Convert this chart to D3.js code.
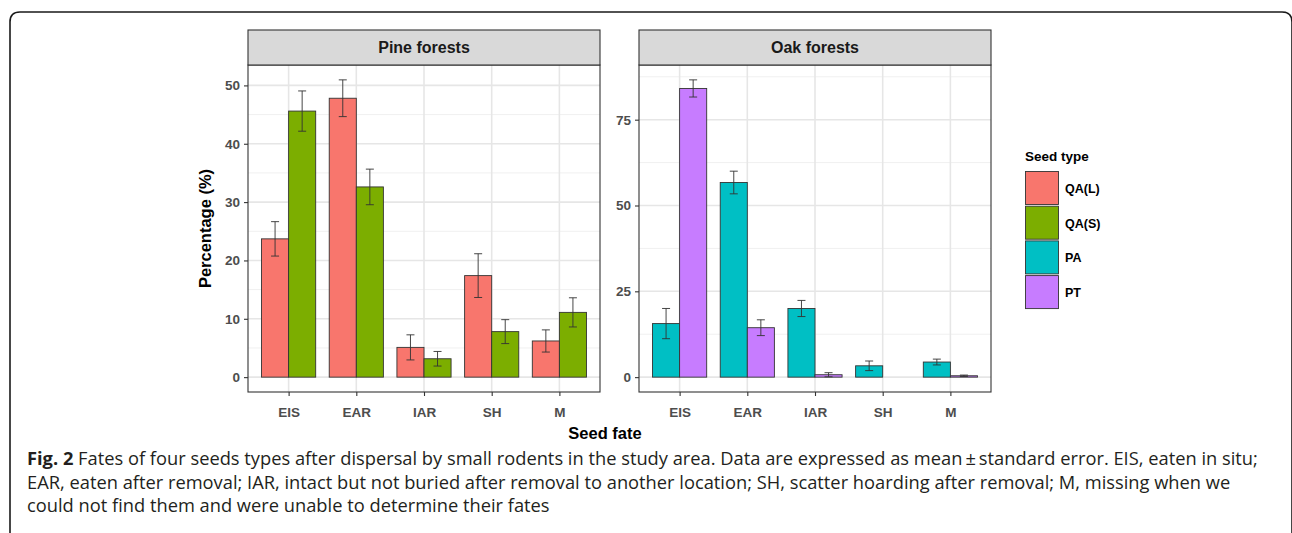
<!DOCTYPE html>
<html>
<head>
<meta charset="utf-8">
<script src="https://cdn.jsdelivr.net/npm/d3@7"></script>
<style>
  html, body { margin: 0; padding: 0; background: #fff; }
  svg { display: block; }
</style>
</head>
<body>
<svg id="chart" width="1292" height="533"></svg>
<script>
// ---------- DATA ----------
const fates = ["EIS", "EAR", "IAR", "SH", "M"];
const seedTypes = ["QA(L)", "QA(S)", "PA", "PT"];
const seedColors = ["#F8766D", "#7CAE00", "#00BFC4", "#C77CFF"];

// Pine forests
const pineQAL = [23.7, 47.8, 5.1, 17.4, 6.2];
const pineQALse = [2.95, 3.15, 2.15, 3.75, 1.9];
const pineQAS = [45.6, 32.6, 3.15, 7.8, 11.1];
const pineQASse = [3.45, 3.05, 1.25, 2.05, 2.5];
const pineTicks = [0, 10, 20, 30, 40, 50];

// Oak forests
const oakPA = [15.6, 56.7, 20.0, 3.3, 4.4];
const oakPAse = [4.4, 3.3, 2.35, 1.4, 0.85];
const oakPT = [84.1, 14.4, 0.7, 0, 0.4];
const oakPTse = [2.5, 2.3, 0.6, 0, 0.2];
const oakTicks = [0, 25, 50, 75];

const panels = [
  { title: "Pine forests", series: [
      { type: "QA(L)", mean: pineQAL, se: pineQALse },
      { type: "QA(S)", mean: pineQAS, se: pineQASse } ], ticks: pineTicks, x0: 248, x1: 600 },
  { title: "Oak forests", series: [
      { type: "PA", mean: oakPA, se: oakPAse },
      { type: "PT", mean: oakPT, se: oakPTse } ], ticks: oakTicks, x0: 639, x1: 991 }
];

const color = d3.scaleOrdinal().domain(seedTypes).range(seedColors);

const svg = d3.select("#chart");
const FONT = "'Liberation Sans', Arial, sans-serif";

// outer rounded frame
svg.append("path")
  .attr("d", "M10,540 L10,22 Q10,12 20,12 L1282,12 Q1292,12 1292,22 L1292,540")
  .attr("fill", "none").attr("stroke", "#1a1a1a").attr("stroke-width", 1.6);

const stripTop = 30, panelTop = 65, panelBottom = 392;

panels.forEach(p => {
  const g = svg.append("g");
  const x = d3.scalePoint().domain(fates).range([p.x0, p.x1]).padding(0.6);
  const step = x.step();
  const maxV = d3.max(p.series.flatMap(s => s.mean.map((m, i) => m + s.se[i])));
  const y = d3.scaleLinear().domain([-0.05 * maxV, maxV * 1.05]).range([panelBottom, panelTop]);

  // background
  g.append("rect").attr("x", p.x0).attr("y", panelTop).attr("width", p.x1 - p.x0)
    .attr("height", panelBottom - panelTop).attr("fill", "#fff");

  // minor grid
  const tstep = p.ticks[1] - p.ticks[0];
  const minors = [];
  for (let v = -tstep / 2; v <= y.domain()[1]; v += tstep) {
    if (v >= y.domain()[0]) minors.push(v);
  }
  g.selectAll(".ming").data(minors).join("line")
    .attr("x1", p.x0).attr("x2", p.x1)
    .attr("y1", d => y(d)).attr("y2", d => y(d))
    .attr("stroke", "#f0f0f0").attr("stroke-width", 1);
  // major grid
  g.selectAll(".majg").data(p.ticks).join("line")
    .attr("x1", p.x0).attr("x2", p.x1)
    .attr("y1", d => y(d)).attr("y2", d => y(d))
    .attr("stroke", "#e6e6e6").attr("stroke-width", 1.6);
  g.selectAll(".vg").data(fates).join("line")
    .attr("x1", d => x(d)).attr("x2", d => x(d))
    .attr("y1", panelTop).attr("y2", panelBottom)
    .attr("stroke", "#e6e6e6").attr("stroke-width", 1.6);

  // bars
  const bw = step * 0.4;
  p.series.forEach((s, si) => {
    const off = si === 0 ? -bw : 0;
    g.selectAll(".bar" + si).data(fates).join("rect")
      .attr("x", d => x(d) + off)
      .attr("y", (d, i) => y(s.mean[i]))
      .attr("width", bw)
      .attr("height", (d, i) => Math.max(0, y(0) - y(s.mean[i])))
      .attr("fill", color(s.type))
      .attr("stroke", "#333").attr("stroke-width", 0.9);
  });
  // error bars
  p.series.forEach((s, si) => {
    const cx = d => x(d) + (si === 0 ? -bw / 2 : bw / 2);
    const eg = g.append("g").attr("stroke", "#333").attr("stroke-width", 1).attr("stroke-opacity", 0.9);
    fates.forEach((d, i) => {
      if (s.se[i] <= 0) return;
      const c = cx(d), hi = y(s.mean[i] + s.se[i]), lo = y(s.mean[i] - s.se[i]);
      eg.append("line").attr("x1", c).attr("x2", c).attr("y1", hi).attr("y2", lo);
      eg.append("line").attr("x1", c - 4).attr("x2", c + 4).attr("y1", hi).attr("y2", hi);
      eg.append("line").attr("x1", c - 4).attr("x2", c + 4).attr("y1", lo).attr("y2", lo);
    });
  });

  // panel border
  g.append("rect").attr("x", p.x0).attr("y", panelTop).attr("width", p.x1 - p.x0)
    .attr("height", panelBottom - panelTop).attr("fill", "none")
    .attr("stroke", "#333").attr("stroke-width", 1.1);

  // strip
  g.append("rect").attr("x", p.x0).attr("y", stripTop).attr("width", p.x1 - p.x0)
    .attr("height", panelTop - stripTop).attr("fill", "#d9d9d9")
    .attr("stroke", "#333").attr("stroke-width", 1.1);
  g.append("text").attr("x", (p.x0 + p.x1) / 2).attr("y", (stripTop + panelTop) / 2 + 5.5)
    .attr("text-anchor", "middle").attr("font-family", FONT).attr("font-weight", "bold")
    .attr("font-size", 16).attr("fill", "#1a1a1a").text(p.title);

  // axes
  const ya = d3.axisLeft(y).tickValues(p.ticks).tickSize(4).tickPadding(4);
  const yg = g.append("g").attr("transform", `translate(${p.x0},0)`).call(ya);
  const xa = d3.axisBottom(x).tickSize(4).tickPadding(11);
  const xg = g.append("g").attr("transform", `translate(0,${panelBottom})`).call(xa);
  [yg, xg].forEach(ax => {
    ax.select(".domain").remove();
    ax.selectAll(".tick line").attr("stroke", "#333").attr("stroke-width", 1.1);
    ax.selectAll(".tick text").attr("font-family", FONT).attr("font-weight", "bold")
      .attr("font-size", 13.5).attr("fill", "#4d4d4d");
  });
});

// axis titles
svg.append("text").attr("x", 605).attr("y", 439).attr("text-anchor", "middle")
  .attr("font-family", FONT).attr("font-weight", "bold").attr("font-size", 16.5)
  .attr("fill", "#000").text("Seed fate");
svg.append("text").attr("transform", `translate(211,${(panelTop + panelBottom) / 2}) rotate(-90)`)
  .attr("text-anchor", "middle").attr("font-family", FONT).attr("font-weight", "bold")
  .attr("font-size", 16.5).attr("fill", "#000").text("Percentage (%)");

// legend
const lg = svg.append("g");
lg.append("text").attr("x", 1025).attr("y", 161).attr("font-family", FONT)
  .attr("font-weight", "bold").attr("font-size", 13.5).attr("fill", "#000").text("Seed type");
seedTypes.forEach((t, i) => {
  const yy = 171 + i * 34.7;
  lg.append("rect").attr("x", 1025.5).attr("y", yy + 0.5).attr("width", 33).attr("height", 33)
    .attr("fill", color(t)).attr("stroke", "#333").attr("stroke-width", 0.9);
  lg.append("text").attr("x", 1065).attr("y", yy + 17 + 5).attr("font-family", FONT)
    .attr("font-weight", "bold").attr("font-size", 12.5).attr("fill", "#000").text(t);
});

// caption
const CAP = "'Open Sans', sans-serif";
const capLines = [
  [["Fig. 2", true], [" Fates of four seeds types after dispersal by small rodents in the study area. Data are expressed as mean\u2009\u00b1\u2009standard error. EIS, eaten in situ;", false]],
  [["EAR, eaten after removal; IAR, intact but not buried after removal to another location; SH, scatter hoarding after removal; M, missing when we", false]],
  [["could not find them and were unable to determine their fates", false]]
];
capLines.forEach((ln, i) => {
  const t = svg.append("text").attr("x", 27).attr("y", 465 + i * 23.5)
    .attr("font-family", CAP).attr("font-size", 18.3).attr("fill", "#231f20");
  ln.forEach(([s, b]) => t.append("tspan").attr("font-weight", b ? "bold" : "normal").text(s));
});
</script>
</body>
</html>
